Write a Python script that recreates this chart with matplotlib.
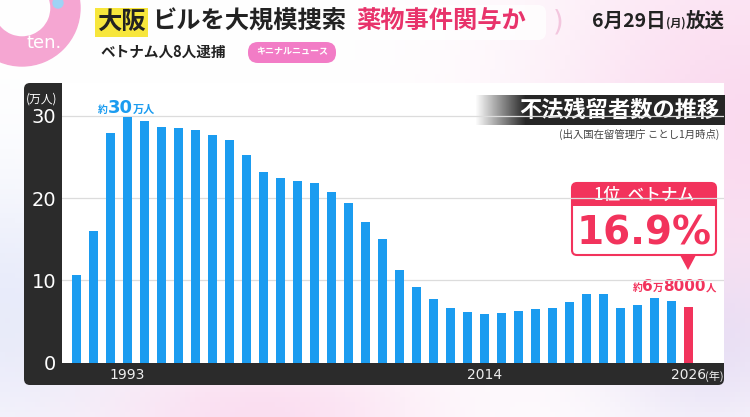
import numpy as np
import matplotlib
matplotlib.use('Agg')
import matplotlib.pyplot as plt
from matplotlib.patches import FancyBboxPatch, Rectangle, Circle, Wedge, Polygon

plt.rcParams['font.family'] = ['Noto Sans CJK JP', 'DejaVu Sans']

# --- data (万人, as of January each year) ---
years = list(range(1990, 2027))
overstayers = [10.6, 16.0, 27.9, 29.9, 29.4, 28.7, 28.5, 28.3, 27.7, 27.1,
               25.2, 23.2, 22.4, 22.1, 21.9, 20.7, 19.4, 17.1, 15.0, 11.3,
               9.2, 7.8, 6.7, 6.2, 5.9, 6.0, 6.3, 6.5, 6.6, 7.4,
               8.3, 8.3, 6.7, 7.0, 7.9, 7.5, 6.8]
x_tick_years = [1993, 2014, 2026]
y_ticks = [0, 10, 20, 30]

BLUE = '#1b9cf0'
RED = '#f2335c'
DARK = '#2b2b2b'

W, H = 750, 417
fig = plt.figure(figsize=(7.5, 4.17), dpi=100)
renderer = fig.canvas.get_renderer()

# background layer in pixel coordinates
bg = fig.add_axes([0, 0, 1, 1])
bg.axis('off')
bg.set_xlim(0, W)
bg.set_ylim(H, 0)


def chain(x, y, pieces, color, z=4):
    # pieces: (text, fontsize, family or None); placed left to right
    for txt, fs, fam in pieces:
        kw = dict(fontsize=fs, weight='bold', color=color, ha='left', va='baseline', zorder=z)
        if fam:
            kw['family'] = fam
        t = bg.text(x, y, txt, **kw)
        bb = t.get_window_extent(renderer)
        x += bb.width


gx, gy = np.meshgrid(np.linspace(0, 1, 150), np.linspace(0, 1, 84))
img = np.ones((84, 150, 3))
pink = np.array([0.98, 0.84, 0.93])
lav = np.array([0.86, 0.88, 0.97])
w_pink = np.clip(np.exp(-((gx - 1.0) ** 2 / 0.08 + (gy - 0.3) ** 2 / 0.3)) * 0.9
                 + np.exp(-((gx - 0.35) ** 2 / 0.05 + (gy - 1.0) ** 2 / 0.03)) * 0.8, 0, 1)
w_lav = np.clip(np.exp(-((gx - 0.0) ** 2 / 0.03 + (gy - 0.75) ** 2 / 0.1)) * 0.8
                + np.exp(-((gx - 0.95) ** 2 / 0.02 + (gy - 0.85) ** 2 / 0.05)) * 0.7, 0, 1)
for c in range(3):
    img[..., c] = 1 - w_pink * (1 - pink[c])
    img[..., c] = img[..., c] - w_lav * (1 - lav[c]) * 0.8
bg.imshow(img, extent=(0, W, H, 0), aspect='auto', zorder=0)

# logo ring
bg.add_patch(Wedge((22, 8), 58, 0, 360, width=29, color='#f5a6d2', zorder=1))
bg.add_patch(Circle((58, 3), 5, color='#9fd3f5', zorder=2))
bg.text(44, 43, 'ten.', color='white', fontsize=13, ha='center', va='center',
        family='DejaVu Sans', zorder=3)

# header
bg.add_patch(FancyBboxPatch((88, 5), 458, 35, boxstyle='round,pad=0,rounding_size=8',
                            fc='white', ec='none', alpha=0.8, zorder=1))
bg.add_patch(Rectangle((95, 8), 53, 29, fc='#f7e63c', ec='none', zorder=2))
bg.text(121.5, 22, '大阪', fontsize=17.5, weight='bold', color='#222222', ha='center', va='center', zorder=3)
bg.text(152, 22, 'ビルを大規模捜索', fontsize=17.5, weight='bold', color='#222222', va='center', zorder=3)
bg.text(356, 22, '薬物事件関与か', fontsize=17.5, weight='bold', color='#e8336b', va='center', zorder=3)
bg.text(553, 22, ')', fontsize=20, color='#f3c6de', va='center', zorder=3, family='DejaVu Sans')
chain(592, 27, [('6月29日', 14, None), ('(月)', 8, None), ('放送', 14, None)], '#222222', z=3)
bg.text(100, 52, 'ベトナム人8人逮捕', fontsize=10.5, weight='bold', color='#222222', va='center', zorder=3)
bg.add_patch(FancyBboxPatch((248, 42), 88, 21, boxstyle='round,pad=0,rounding_size=10',
                            fc='#f27cc6', ec='none', zorder=2))
bg.text(292, 52, 'キニナルニュース', fontsize=6.5, weight='bold', color='white',
        ha='center', va='center', zorder=3)

# chart frame
bg.add_patch(FancyBboxPatch((24, 83), 700, 302, boxstyle='round,pad=0,rounding_size=6',
                            fc=DARK, ec='none', zorder=1))
bg.add_patch(Rectangle((62, 83), 662, 280, fc='white', ec='none', zorder=2))
bg.text(42, 99, '(万人)', fontsize=8.5, color='white', ha='center', va='center', zorder=3)

# title box with faded left edge
grad = np.zeros((2, 250, 4))
grad[..., :3] = matplotlib.colors.to_rgb('#262626')
grad[..., 3] = np.clip(np.linspace(0, 1, 250) * 5, 0, 1)
bg.imshow(grad, extent=(475, 725, 125, 95), aspect='auto', zorder=3)
bg.text(719, 110, '不法残留者数の推移', fontsize=16, weight='bold', color='white',
        ha='right', va='center', zorder=4)
bg.text(719, 134, '(出入国在留管理庁 ことし1月時点)', fontsize=7.5, color='#444444',
        ha='right', va='center', zorder=4)

# callout box
bg.add_patch(FancyBboxPatch((572, 183), 144, 72, boxstyle='round,pad=0,rounding_size=5',
                            fc='white', ec=RED, lw=1.5, zorder=4))
bg.add_patch(FancyBboxPatch((572, 183), 144, 23, boxstyle='round,pad=0,rounding_size=5',
                            fc=RED, ec='none', zorder=5))
bg.add_patch(Rectangle((572, 198), 144, 8, fc=RED, ec='none', zorder=5))
bg.text(644, 195, '1位  ベトナム', fontsize=12, weight='medium', color='white',
        ha='center', va='center', zorder=6)
bg.text(644, 233, '16.9%', fontsize=28, weight='bold', color=RED, ha='center', va='center',
        family='DejaVu Sans', zorder=6)
bg.add_patch(Polygon([[680, 255], [696, 255], [688, 270]], closed=True, fc=RED, ec='none', zorder=5))

# chart axes
left, right, top, bottom = 62, 724, 83, 362.7
ax = fig.add_axes([left / W, 1 - bottom / H, (right - left) / W, (bottom - top) / H])
ax.set_facecolor('none')
ax.set_zorder(3)
bg.set_zorder(1)

idx = np.arange(len(years))
colors = [BLUE] * (len(years) - 1) + [RED]
ax.bar(idx, overstayers, width=0.53, color=colors, zorder=3)
for v in y_ticks[1:]:
    ax.axhline(v, color='#dcdcdc', lw=0.9, zorder=1)

ax.set_xlim(-0.84, 38.07)
ax.set_ylim(0, 34.0)
ax.set_yticks(y_ticks)
ax.set_yticklabels([str(t) for t in y_ticks], fontsize=14, color='white', family='DejaVu Sans')
ax.set_xticks([years.index(y) for y in x_tick_years])
ax.set_xticklabels([str(y) for y in x_tick_years], fontsize=10, color='#eeeeee', family='DejaVu Sans')
ax.tick_params(length=0)
ax.tick_params(axis='y', pad=4)
ax.tick_params(axis='x', pad=4)
for s in ax.spines.values():
    s.set_visible(False)

ax.text(len(years) - 1 + 0.95, -1.6, '(年)', fontsize=8, color='#eeeeee', ha='left', va='center',
        clip_on=False)

# value labels, placed in pixel space from the bar positions
def to_px(xd, yd):
    px, py = ax.transData.transform((xd, yd))
    return px, H - py

peak = int(np.argmax(overstayers))
px, py = to_px(peak - 1.72, overstayers[peak] + 1.0)
chain(px, py + 4, [('約', 7, None), ('30', 13, 'DejaVu Sans'), ('万人', 8, None)], BLUE, z=6)

last = len(years) - 1
px, py = to_px(last - 3.3, overstayers[last] + 2.4)
chain(px, py + 4, [('約', 7, None), ('6', 11, 'DejaVu Sans'), ('万', 7.5, None),
                   ('8000', 11, 'DejaVu Sans'), ('人', 7.5, None)], RED, z=6)

fig.savefig('out.png', dpi=100)
